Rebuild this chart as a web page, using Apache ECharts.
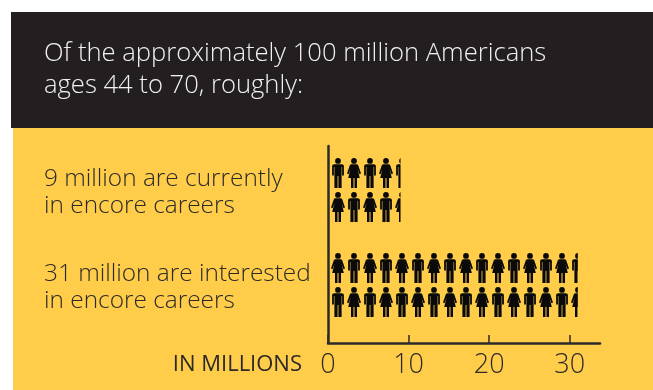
<!DOCTYPE html>
<html>
<head>
<meta charset="utf-8">
<style>html,body{margin:0;padding:0;background:#fff}#chart{width:653px;height:390px}</style>
<script src="https://cdn.jsdelivr.net/npm/echarts@6/dist/echarts.min.js"></script>
</head>
<body>
<div id="chart"></div>
<script>
// Encore-career counts, in millions of people
const categories = ['9 million are currently\nin encore careers', '31 million are interested\nin encore careers'];
const millions = [9, 31];
const axisTicks = [0, 10, 20, 30];
const headline = 'Of the approximately 100 million Americans\nages 44 to 70, roughly:';
const axisName = 'IN MILLIONS';

const INK = '#2b2a29';
const FONT = '"Open Sans", sans-serif';
const VALUE_MAX = 33.75;
const PLOT_WIDTH = 272;
const TILE_WIDTH = 32;

// Person glyphs, each drawn around a horizontal centre cx in a 32x30 tile
const head = cx => `M${cx - 2.9} 2.9A2.9 2.9 0 1 1 ${cx + 2.9} 2.9A2.9 2.9 0 1 1 ${cx - 2.9} 2.9Z`;
const man = cx => head(cx) +
  `M${cx - 5.9} 8Q${cx - 5.9} 6.2 ${cx - 3.7} 6.2L${cx + 3.7} 6.2Q${cx + 5.9} 6.2 ${cx + 5.9} 8` +
  `L${cx + 5.9} 17.5L${cx + 4.1} 17.5L${cx + 4.1} 9L${cx + 3.6} 9L${cx + 3.6} 30L${cx + 0.4} 30L${cx + 0.4} 18` +
  `L${cx - 0.4} 18L${cx - 0.4} 30L${cx - 3.6} 30L${cx - 3.6} 9L${cx - 4.1} 9L${cx - 4.1} 17.5L${cx - 5.9} 17.5Z`;
const woman = cx => head(cx) +
  `M${cx - 2.6} 6.2L${cx + 2.6} 6.2Q${cx + 3.8} 6.2 ${cx + 4.3} 7.5L${cx + 7} 15.6L${cx + 5.4} 16.2L${cx + 3.5} 10.8` +
  `L${cx + 5.8} 20L${cx + 3} 20L${cx + 3} 30L${cx + 0.5} 30L${cx + 0.5} 20L${cx - 0.5} 20L${cx - 0.5} 30` +
  `L${cx - 3} 30L${cx - 3} 20L${cx - 5.8} 20L${cx - 3.5} 10.8L${cx - 5.4} 16.2L${cx - 7} 15.6L${cx - 4.3} 7.5Q${cx - 3.8} 6.2 ${cx - 2.6} 6.2Z`;
// Zero-length corner marks keep the tile's box at the full width
const tile = body => 'path://M0 0L0 0' + body + 'M32 30L32 30';
const manFirst = tile(man(8) + woman(24));
const womanFirst = tile(woman(8) + man(24));

// A whole number of tiles over the repeat span keeps their spacing at exactly TILE_WIDTH
const repeatSpan = 8 * TILE_WIDTH * VALUE_MAX / PLOT_WIDTH;

const personRow = symbols => ({
  type: 'pictorialBar',
  xAxisIndex: 1,
  yAxisIndex: 1,
  barWidth: 30,
  barGap: '13.3%',
  symbolRepeat: 'fixed',
  symbolClip: true,
  symbolBoundingData: repeatSpan,
  symbolMargin: 0,
  symbolSize: [TILE_WIDTH, 30],
  symbolOffset: [2, -2.5],
  symbolPosition: 'start',
  itemStyle: { color: '#0a0a0a' },
  data: millions.map((v, i) => ({ value: v, symbol: symbols[i] }))
});

const chart = echarts.init(document.getElementById('chart'), null, { renderer: 'canvas' });
chart.setOption({
  animation: false,
  backgroundColor: '#ffffff',
  graphic: [
    { type: 'rect', z: -10, shape: { x: 11, y: 12, width: 642, height: 116 }, style: { fill: '#231f20' } },
    { type: 'rect', z: -10, shape: { x: 13, y: 128, width: 640, height: 262 }, style: { fill: '#ffcd4a' } }
  ],
  title: {
    text: headline,
    left: 44,
    top: 38,
    padding: 0,
    textStyle: { color: '#f2f1ef', fontFamily: FONT, fontWeight: 300, fontSize: 25.6, lineHeight: 32 }
  },
  grid: [
    { left: 328, top: 146, width: PLOT_WIDTH, height: 197 },
    { left: 328, top: 145, width: PLOT_WIDTH, height: 190 }
  ],
  xAxis: [
    {
      type: 'value', gridIndex: 0, min: 0, max: VALUE_MAX,
      splitLine: { show: false },
      axisLine: { show: true, lineStyle: { color: INK, width: 2.5 } },
      axisTick: { show: true, inside: true, length: 8, customValues: axisTicks, lineStyle: { color: INK, width: 1.5 } },
      axisLabel: { customValues: axisTicks, color: INK, fontFamily: FONT, fontWeight: 300, fontSize: 27, margin: 9 },
      name: axisName,
      nameLocation: 'start',
      nameGap: 26,
      nameTextStyle: { color: INK, fontFamily: FONT, fontWeight: 500, fontSize: 22, verticalAlign: 'top', padding: [11, 0, 0, 0] }
    },
    { type: 'value', gridIndex: 1, min: 0, max: VALUE_MAX, show: false }
  ],
  yAxis: [
    {
      type: 'value', gridIndex: 0, min: 0, max: 1,
      splitLine: { show: false },
      axisLine: { show: true, lineStyle: { color: INK, width: 2.5 } },
      axisTick: { show: false },
      axisLabel: { show: false }
    },
    {
      type: 'category', gridIndex: 1, inverse: true, data: categories,
      axisLine: { show: false },
      axisTick: { show: false },
      axisLabel: { align: 'left', margin: 284, color: INK, fontFamily: FONT, fontWeight: 300, fontSize: 24.4, lineHeight: 27 }
    }
  ],
  series: [
    personRow([manFirst, womanFirst]),
    personRow([womanFirst, manFirst])
  ]
});
</script>
</body>
</html>
